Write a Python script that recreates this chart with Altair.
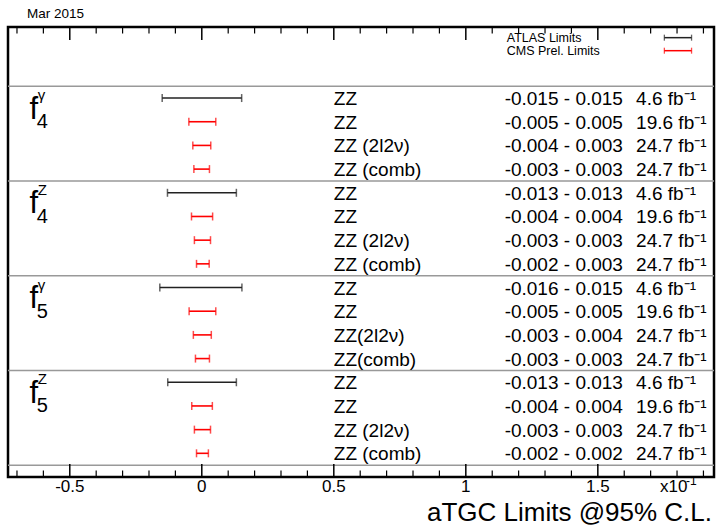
import altair as alt
import pandas as pd
import numpy as np

# ---------------- data ----------------
row_labels = ["ZZ", "ZZ", "ZZ (2l2ν)", "ZZ (comb)",
              "ZZ", "ZZ", "ZZ (2l2ν)", "ZZ (comb)",
              "ZZ", "ZZ", "ZZ(2l2ν)", "ZZ(comb)",
              "ZZ", "ZZ", "ZZ (2l2ν)", "ZZ (comb)"]
experiments = ["ATLAS", "CMS", "CMS", "CMS"] * 4
# limits in units of 10^-1
lower = [-0.150, -0.049, -0.034, -0.030,
         -0.130, -0.039, -0.028, -0.020,
         -0.159, -0.048, -0.032, -0.024,
         -0.129, -0.038, -0.028, -0.020]
upper = [0.151, 0.053, 0.034, 0.029,
         0.131, 0.041, 0.033, 0.028,
         0.152, 0.053, 0.036, 0.029,
         0.131, 0.040, 0.033, 0.025]
range_texts = ["-0.015 - 0.015", "-0.005 - 0.005", "-0.004 - 0.003", "-0.003 - 0.003",
               "-0.013 - 0.013", "-0.004 - 0.004", "-0.003 - 0.003", "-0.002 - 0.003",
               "-0.016 - 0.015", "-0.005 - 0.005", "-0.003 - 0.004", "-0.003 - 0.003",
               "-0.013 - 0.013", "-0.004 - 0.004", "-0.003 - 0.003", "-0.002 - 0.002"]
lumis = ["4.6", "19.6", "24.7", "24.7"] * 4

group_first_row = [0, 4, 8, 12]
group_sub = ["4", "4", "5", "5"]
group_sup = ["γ", "Z", "γ", "Z"]

separator_rows = [-0.5, 3.5, 7.5, 11.5, 15.5]

tick_values = [-0.5, 0, 0.5, 1, 1.5]
tick_labels = ["-0.5", "0", "0.5", "1", "1.5"]
minor_ticks = [round(v, 1) for v in np.arange(-0.7, 1.95, 0.1)
               if round(v, 1) not in tick_values]

legend_labels = ["ATLAS Limits", "CMS Prel. Limits"]
legend_exp = ["ATLAS", "CMS"]
legend_rows = [-2.55, -2.0]

# ---------------- tables ----------------
rows = pd.DataFrame({
    "idx": list(range(16)),
    "label": row_labels,
    "exp": experiments,
    "lo": lower,
    "hi": upper,
    "rng": range_texts,
    "lumi": [l + " fb⁻¹" for l in lumis],
})
groups = pd.DataFrame({"row": group_first_row, "sub": group_sub, "sup": group_sup, "f": ["f"] * 4})
seps = pd.DataFrame({"r": separator_rows})
majors = pd.DataFrame({"v": tick_values, "lab": tick_labels})
minors = pd.DataFrame({"v": minor_ticks})
legend = pd.DataFrame({"label": legend_labels, "exp": legend_exp, "r": legend_rows,
                       "x0": [1.752] * 2, "x1": [1.855] * 2})

W, H = 706, 450
FONT = "Liberation Sans"
xs = alt.Scale(domain=[-0.734, 1.94], nice=False, zero=False)
ys = alt.Scale(domain=[-3, 16], reverse=True, nice=False, zero=False)
col = alt.Color("exp:N", scale=alt.Scale(domain=["ATLAS", "CMS"], range=["#222222", "#ff0000"]), legend=None)


def X(field=None, datum=None):
    if datum is not None:
        return alt.X(datum=datum, type="quantitative", scale=xs, axis=None)
    return alt.X(field, type="quantitative", scale=xs, axis=None)


def Y(field=None, datum=None):
    if datum is not None:
        return alt.Y(datum=datum, type="quantitative", scale=ys, axis=None)
    return alt.Y(field, type="quantitative", scale=ys, axis=None)


# separators
sep_layer = alt.Chart(seps).mark_rule(color="#999999", strokeWidth=1.5).encode(
    y=Y("r"), x=alt.value(0), x2=alt.value(W))

# ticks (inward) and tick labels
maj_bot = alt.Chart(majors).mark_rule(color="black", strokeWidth=1.5).encode(
    x=X("v"), y=alt.value(H), y2=alt.value(H - 13))
maj_top = alt.Chart(majors).mark_rule(color="black", strokeWidth=1.5).encode(
    x=X("v"), y=alt.value(0), y2=alt.value(13))
min_bot = alt.Chart(minors).mark_rule(color="black", strokeWidth=1.2).encode(
    x=X("v"), y=alt.value(H), y2=alt.value(H - 6.5))
min_top = alt.Chart(minors).mark_rule(color="black", strokeWidth=1.2).encode(
    x=X("v"), y=alt.value(0), y2=alt.value(6.5))
tick_txt = alt.Chart(majors).mark_text(align="center", baseline="alphabetic", fontSize=17,
                                       font=FONT, color="black").encode(
    x=X("v"), y=alt.value(H + 15), text="lab:N")

# error bars
bars = alt.Chart(rows).mark_rule(strokeWidth=1.6).encode(x=X("lo"), x2="hi:Q", y=Y("idx"), color=col)
cap_lo = alt.Chart(rows).mark_tick(orient="vertical", size=8, thickness=1.5).encode(
    x=X("lo"), y=Y("idx"), color=col)
cap_hi = alt.Chart(rows).mark_tick(orient="vertical", size=8, thickness=1.5).encode(
    x=X("hi"), y=Y("idx"), color=col)

# row texts
txt = dict(align="left", baseline="alphabetic", dy=7, fontSize=19, font=FONT, color="black")
t_label = alt.Chart(rows).mark_text(**txt).encode(x=X(datum=0.5), y=Y("idx"), text="label:N")
t_rng = alt.Chart(rows).mark_text(**txt).encode(x=X(datum=1.147), y=Y("idx"), text="rng:N")
t_lumi = alt.Chart(rows).mark_text(**txt).encode(x=X(datum=1.645), y=Y("idx"), text="lumi:N")

# group labels
g_f = alt.Chart(groups).mark_text(align="left", baseline="alphabetic", dy=20.5, fontSize=31,
                                  font=FONT, color="black").encode(x=X(datum=-0.653), y=Y("row"), text="f:N")
g_sub = alt.Chart(groups).mark_text(align="left", baseline="alphabetic", dy=30, fontSize=20,
                                    font=FONT, color="black").encode(x=X(datum=-0.625), y=Y("row"), text="sub:N")
g_sup = alt.Chart(groups).mark_text(align="left", baseline="alphabetic", dy=2, fontSize=15,
                                    font=FONT, color="black").encode(x=X(datum=-0.621), y=Y("row"), text="sup:N")

# legend
l_txt = alt.Chart(legend).mark_text(align="left", baseline="alphabetic", dy=4, fontSize=12.5,
                                    font=FONT, color="black").encode(x=X(datum=1.155), y=Y("r"), text="label:N")
l_bar = alt.Chart(legend).mark_rule(strokeWidth=1.5).encode(x=X("x0"), x2="x1:Q", y=Y("r"), color=col)
l_c0 = alt.Chart(legend).mark_tick(orient="vertical", size=6, thickness=1.3).encode(x=X("x0"), y=Y("r"), color=col)
l_c1 = alt.Chart(legend).mark_tick(orient="vertical", size=6, thickness=1.3).encode(x=X("x1"), y=Y("r"), color=col)

# annotations
date_t = alt.Chart(pd.DataFrame({"t": ["Mar 2015"]})).mark_text(
    align="left", baseline="alphabetic", fontSize=13.5, font=FONT, color="black").encode(
    x=alt.value(19), y=alt.value(-9.5), text="t:N")
exp_t = alt.Chart(pd.DataFrame({"t": ["x10"]})).mark_text(
    align="left", baseline="alphabetic", fontSize=17, font=FONT, color="black").encode(
    x=alt.value(652), y=alt.value(465), text="t:N")
exp_sup = alt.Chart(pd.DataFrame({"t": ["-1"]})).mark_text(
    align="left", baseline="alphabetic", fontSize=12, font=FONT, color="black").encode(
    x=alt.value(678), y=alt.value(458), text="t:N")
title_t = alt.Chart(pd.DataFrame({"t": ["aTGC Limits @95% C.L."]})).mark_text(
    align="right", baseline="alphabetic", fontSize=26, font=FONT, color="black").encode(
    x=alt.value(704), y=alt.value(494), text="t:N")

chart = alt.layer(
    sep_layer, maj_bot, maj_top, min_bot, min_top, tick_txt,
    bars, cap_lo, cap_hi, t_label, t_rng, t_lumi,
    g_f, g_sub, g_sup, l_txt, l_bar, l_c0, l_c1,
    date_t, exp_t, exp_sup, title_t,
).properties(
    width=W, height=H,
    autosize=alt.AutoSizeParams(type="none"),
    padding={"left": 8, "top": 27, "right": 2, "bottom": 50},
    background="white",
).configure_view(stroke="black", strokeWidth=2.5)

chart.save("out.html", embed_options={"renderer": "svg", "actions": False})
